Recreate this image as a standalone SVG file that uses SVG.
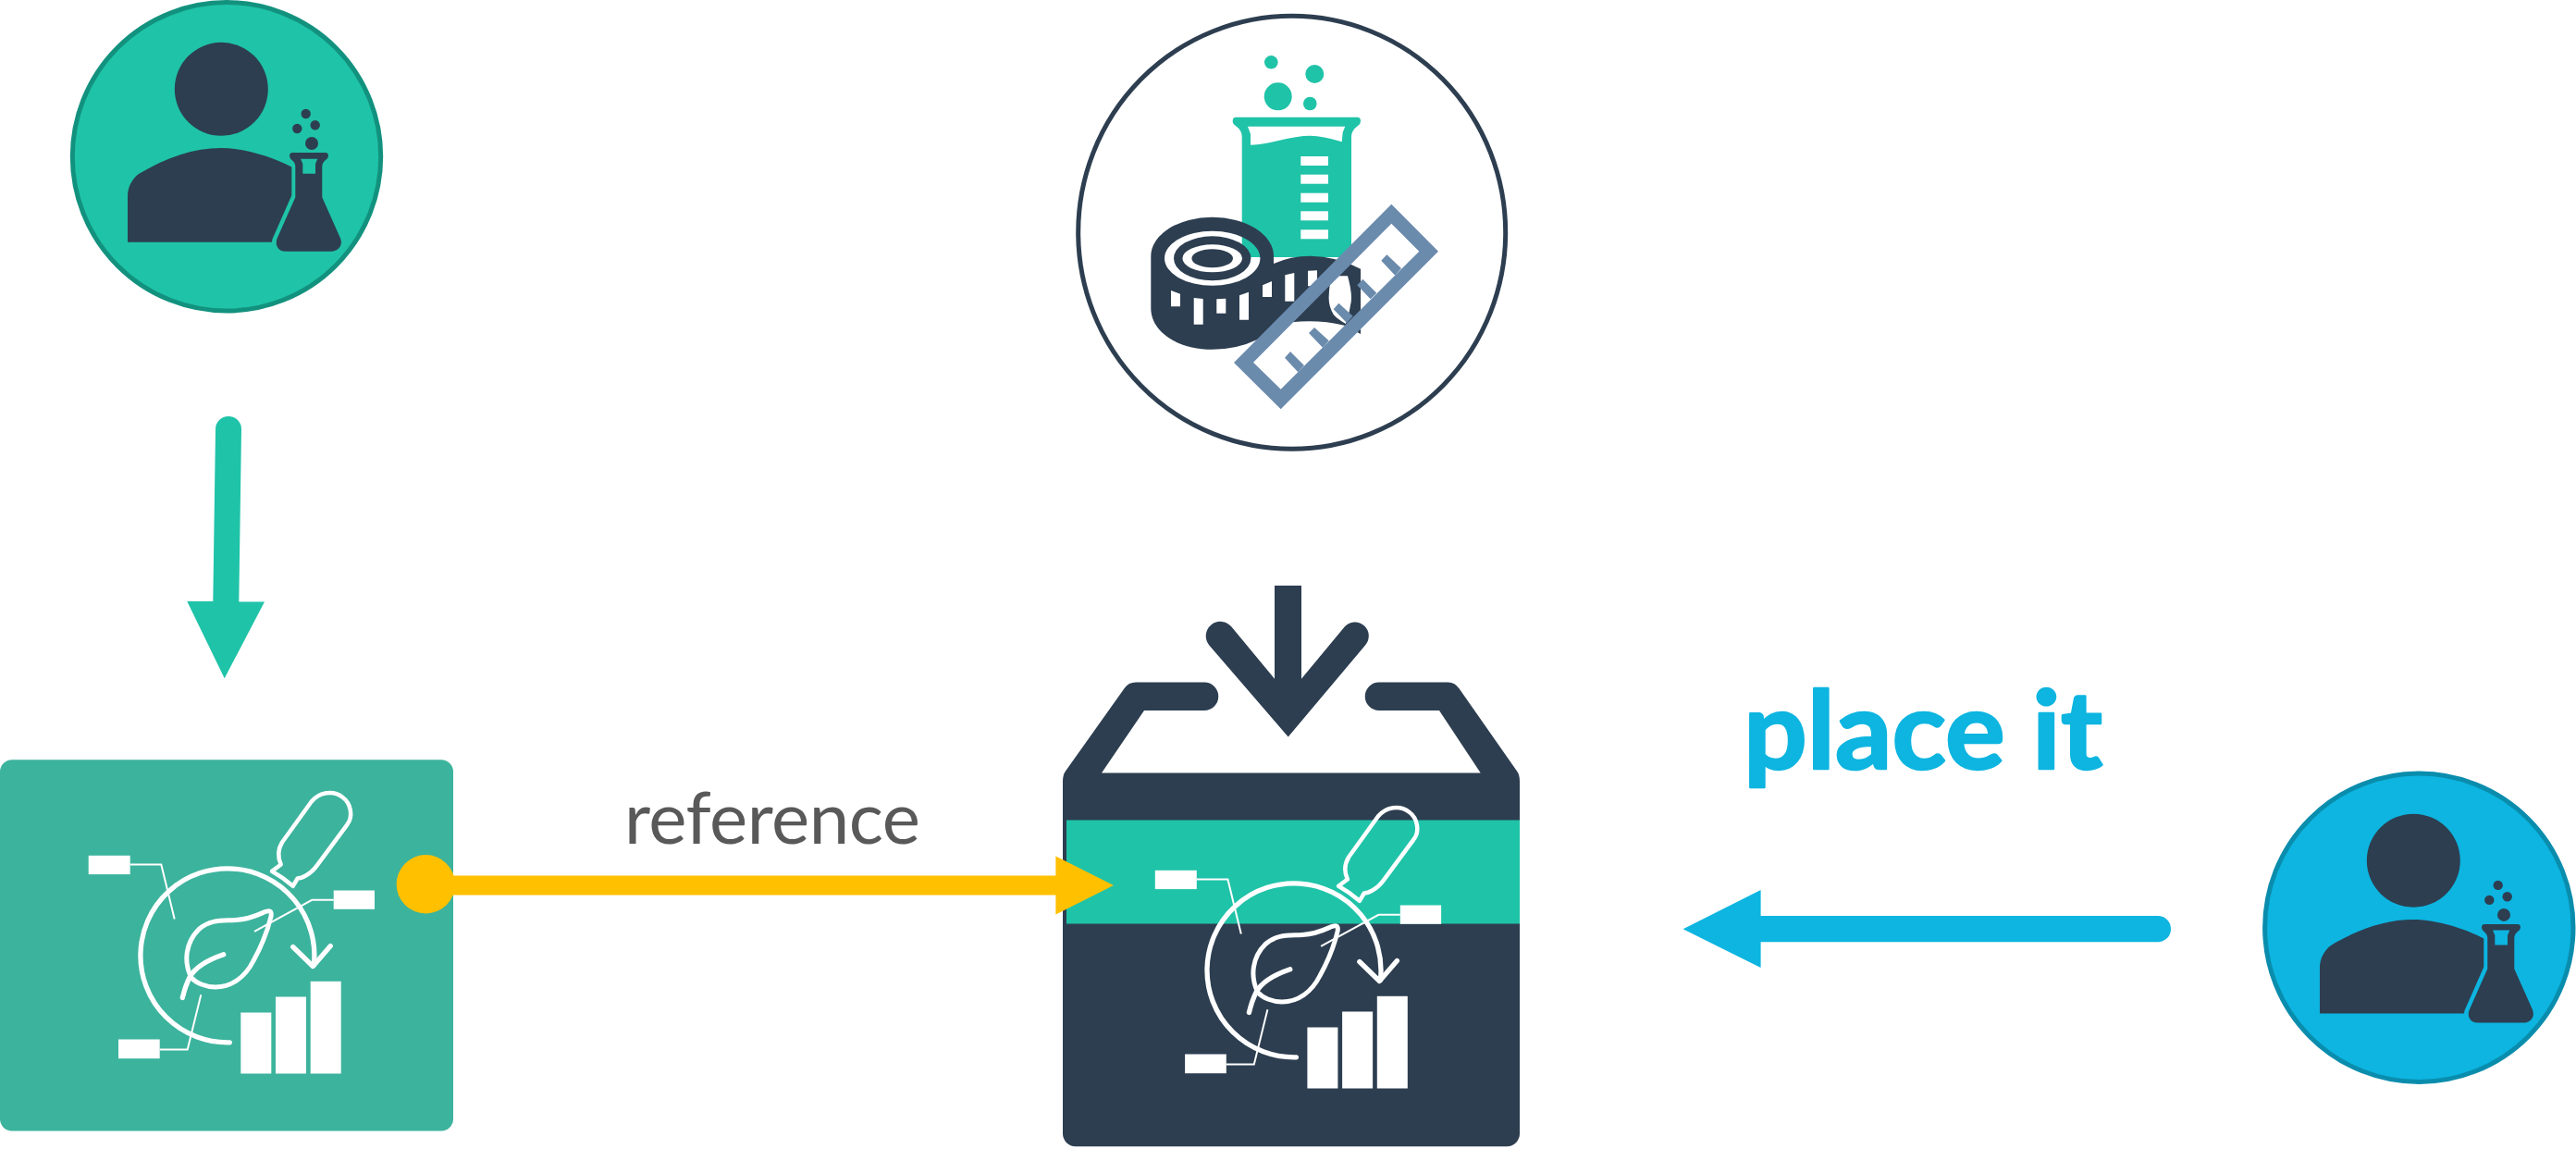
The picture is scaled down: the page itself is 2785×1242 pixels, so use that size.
<svg xmlns="http://www.w3.org/2000/svg" xmlns:xlink="http://www.w3.org/1999/xlink" width="2785" height="1242" viewBox="0 0 2785 1242">
<style>
.dark{fill:#2D3E50}
.teal{fill:#1FC3A8}
.wline{fill:none;stroke:#fff;stroke-linecap:round;stroke-linejoin:round}
.lead{fill:none;stroke:#fff;stroke-width:2}
.wfill{fill:#fff}
</style>
<defs>
<g id="person-shape">
<circle class="dark" cx="239.3" cy="96.3" r="50.5"/>
<path class="dark" d="M138 261.7V212C138 202 143 193 150 188C180 170 210 160 239 160C265 160 295 170 315.3 180.5V211.3L296 255Q294 258 294 261.7Z"/>
<path class="dark" d="M316 165H352Q355 165 355 168.5Q355 171 352 173Q348.3 176 348.3 180V213.3L368 257.5C371 265 366 271.7 358.3 271.7H308.3C301 271.7 297 265 299.5 258L319.3 213.3V180Q319.3 176 315.5 173Q313 171 313 168.5Q313 165 316 165ZM325 171.7L327.3 177V187.7H341V177L343.3 171.7Z" fill-rule="evenodd"/>
<circle class="dark" cx="330.7" cy="123" r="5.2"/>
<circle class="dark" cx="340.7" cy="135.3" r="5.2"/>
<circle class="dark" cx="321.3" cy="139" r="5.2"/>
<circle class="dark" cx="337" cy="155" r="7"/>
</g>
<g id="analysis-icon">
<path class="wline" stroke-width="5.3" d="M248.3 1128.3A94 94 0 1 1 339.3 1045"/>
<path class="wline" stroke-width="5.3" d="M316.7 1025L338.3 1046L357.3 1024"/>
<path class="wline" stroke-width="5" d="M206.7 1058.3C198 1040 201 1020 215 1006C228 995 240 997 255 996C270 995 280 990 285 987.7C292 985 294 986 293 992C290 1005 285 1020 274 1040C265 1058 250 1068.5 233 1068.5C222 1068.5 212 1064 206.7 1058.3Z"/>
<path class="wline" stroke-width="5.3" d="M241.7 1033.3C225 1039 211 1047 205 1058C201 1066 199 1073 197.3 1080"/>
<path class="wline" stroke-width="4.5" d="M294 943.3L303.7 936C301 930 299 922 305 912L336.7 868C345 858 360 855 370 863C380 870 382 885 375 893.3L343 936.7C335 948 325 951 321.7 951L316.7 959.3Q306 950 294 943.3Z"/>
<path class="lead" d="M140.7 936H174.3L188.7 995"/>
<path class="lead" d="M360.7 974.3H337.3L275 1008.3"/>
<path class="lead" d="M172.7 1136H202.7L217.3 1076.7"/>
<rect class="wfill" x="95.7" y="926.3" width="45" height="20.3"/>
<rect class="wfill" x="360.7" y="964" width="44.3" height="20.3"/>
<rect class="wfill" x="128" y="1125" width="44.7" height="20.7"/>
<rect class="wfill" x="260.3" y="1096" width="33" height="66"/>
<rect class="wfill" x="298" y="1079" width="33" height="83"/>
<rect class="wfill" x="335.7" y="1062.3" width="33" height="99.7"/>
</g>
</defs>

<g id="node-researcher-teal">
<circle cx="245" cy="169.3" r="166.7" fill="#1FC3A8" stroke="#12927E" stroke-width="5"/>
<use href="#person-shape" xlink:href="#person-shape"/>
</g>

<g id="node-measure">
<ellipse cx="1396.7" cy="251.3" rx="231" ry="234" fill="#fff" stroke="#2D3E50" stroke-width="5"/>
<path class="teal" d="M1336 126.7H1467.5Q1471 126.7 1471 131Q1471 134 1468 136Q1461 141 1461 148V278H1342.7V148Q1342.7 141 1336 136Q1332.7 134 1332.7 131Q1332.7 126.7 1336 126.7Z"/>
<path class="wfill" d="M1349 136.7H1454.3L1451.7 143L1450.7 153.3Q1430 146.7 1416.7 146.7Q1403 146.7 1380 152.5Q1367 156 1352 156.7V145Z"/>
<g class="wfill">
<rect x="1406.3" y="169" width="29.7" height="10"/>
<rect x="1406.3" y="188.7" width="29.7" height="10"/>
<rect x="1406.3" y="208.7" width="29.7" height="10"/>
<rect x="1406.3" y="228.3" width="29.7" height="10"/>
<rect x="1406.3" y="248.3" width="29.7" height="10"/>
</g>
<circle class="teal" cx="1374.3" cy="67.3" r="7.3"/>
<circle class="teal" cx="1421.3" cy="80" r="10"/>
<circle class="teal" cx="1381.7" cy="104.3" r="15"/>
<circle class="teal" cx="1416.3" cy="112" r="7.3"/>
<path class="dark" fill-rule="evenodd" d="M1244.3 276.7A66.35 42 0 0 1 1377 276.7V285Q1395 276.7 1416.7 276.7Q1445 277 1471 290.7V361L1453.3 351.7Q1425 345 1396.7 348.3Q1378 358 1360 366.7Q1337 377.7 1310.7 377.7C1272 377.7 1244.3 358 1244.3 333.3Z
M1259 279.3a51.7 29.5 0 1 0 103.4 0a51.7 29.5 0 1 0 -103.4 0Z
M1269 279.3a41.7 24 0 1 0 83.4 0a41.7 24 0 1 0 -83.4 0Z
M1278.4 279.3a32.3 15 0 1 0 64.6 0a32.3 15 0 1 0 -64.6 0Z
M1288.4 279.3a22.3 10 0 1 0 44.6 0a22.3 10 0 1 0 -44.6 0Z
M1266 314L1276 317.7V331.3H1266Z
M1290.7 322L1300.7 323V350.7H1290.7Z
M1315.3 323.3L1325.3 322.7V338.7H1315.3Z
M1340 319.3L1350 315.7V345.7H1340Z
M1365 308.3L1375 304V321H1365Z
M1389.3 297.3L1399.3 295V325.7H1389.3Z
M1414 292.7L1424 292.3V309.3H1414Z
M1440 298.3H1457Q1463 320 1460 330Q1458 342 1455 350Q1446 345 1441.7 340Q1436 330 1436.7 320Q1437 308 1440 298.3Z"/>
<path fill="#6B8BAD" fill-rule="evenodd" d="M1504.3 220.7L1555 271.7L1384.7 442.3L1334 392ZM1504.3 241.7L1355 391.7L1384.7 420.7L1534.3 271.7Z"/>
<path fill="#6B8BAD" d="M1395 380L1389 386.7L1403.3 402.3L1410 395ZM1421 354L1415 360L1430 375.7L1436.7 368.3ZM1447.3 327.7L1441.7 334.3L1456 349L1462.7 341.7ZM1473.3 301.7L1467.3 308.3L1481.7 323.3L1488.3 316.7ZM1499.3 275.3L1493.3 281.7L1508.3 297.7L1515 290Z"/>
</g>

<g id="node-reference-box" transform="translate(0 -1.5)">
<rect x="0" y="822.7" width="490" height="401.3" rx="13" fill="#3CB39D"/>
<use href="#analysis-icon" xlink:href="#analysis-icon"/>
<circle cx="460.3" cy="957.3" r="31.7" fill="#FFC000"/>
</g>

<g id="node-target-box">
<g transform="translate(0 -1.5)">
<path class="dark" d="M1228 739H1302A15.2 15.2 0 0 1 1302 769.5H1237L1191 837H1600.7L1556 769.5H1491A15.2 15.2 0 0 1 1491 739H1565.6Q1573 739 1577.7 746L1640 835Q1643 839 1643 846V1226A14 14 0 0 1 1629 1240.8H1163A14 14 0 0 1 1149 1226V846Q1149 839 1152 835L1216 745Q1220 739 1228 739Z"/>
<rect class="teal" x="1153" y="888" width="490" height="112"/>
<use href="#analysis-icon" xlink:href="#analysis-icon" transform="translate(1153.1 16)"/>
</g>
<path class="dark" d="M1378 633H1407V733.8L1453.7 677.5A14.5 14.5 0 0 1 1476 697.4L1392.7 796.5L1307.3 697.4A14.5 14.5 0 0 1 1331.4 677.5L1378 733.8Z"/>
</g>

<g id="node-researcher-blue" transform="translate(0 -1.5)">
<circle cx="2615.3" cy="1004.3" r="166.7" fill="#0DB5E0" stroke="#0A8DAD" stroke-width="5"/>
<use href="#person-shape" xlink:href="#person-shape" transform="translate(2370 835.4)"/>
</g>

<g id="connectors">
<path id="arrow-green" class="teal" d="M233 464A14 14 0 0 1 261 464L258.3 650.5H286L242.7 733.3L202.3 650H230.3Z"/>
<g id="arrow-reference">
<rect x="460" y="946.5" width="682" height="21" fill="#FFC000"/>
<path d="M1141.4 925.5L1204 957L1141.4 988.5Z" fill="#FFC000"/>
</g>
<path id="arrow-blue" fill="#0DB5E0" d="M2334 990A14.2 14.2 0 0 1 2334 1018.3H1903.6V1046L1819.6 1004.3L1903.6 962V990Z"/>
</g>

<text id="label-reference" x="675" y="911.5" font-family="Lato, 'Liberation Sans', sans-serif" font-weight="400" font-size="78" fill="#595959" textLength="320" lengthAdjust="spacing">reference</text>
<text id="label-place-it" x="1885" y="831" font-family="Lato, 'Liberation Sans', sans-serif" font-weight="700" font-size="116" fill="#0DB5E0" stroke="#0DB5E0" stroke-width="2.5" stroke-linejoin="round" textLength="388" lengthAdjust="spacingAndGlyphs">place it</text>
</svg>
